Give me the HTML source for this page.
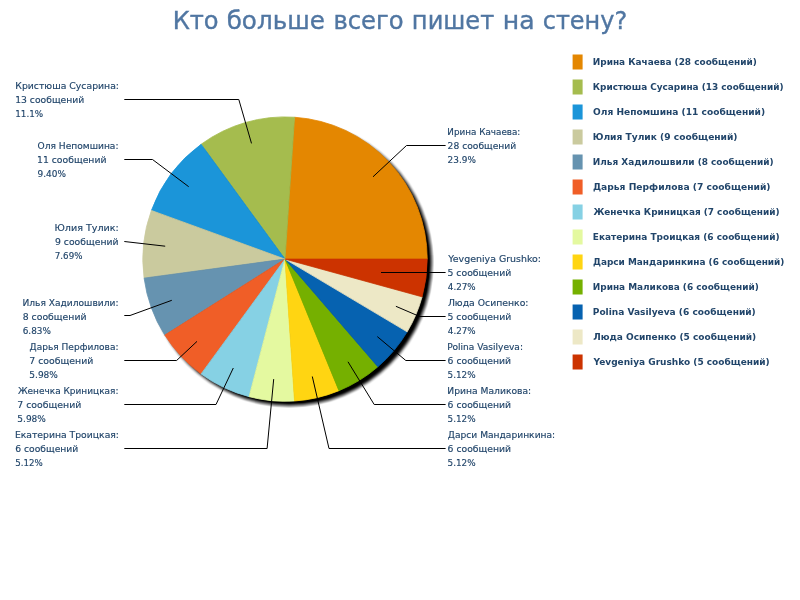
<!DOCTYPE html>
<html lang="ru">
<head>
<meta charset="utf-8">
<title>Кто больше всего пишет на стену?</title>
<style>
html,body{margin:0;padding:0;background:#fff;}
body{width:800px;height:600px;overflow:hidden;}
svg{display:block;}
.t{font-family:"DejaVu Sans Condensed", "Liberation Sans", sans-serif;font-size:25.2px;fill:#5076A2;stroke:#5076A2;stroke-width:0.35px;}
.l{font-family:"DejaVu Sans", "Liberation Sans", sans-serif;font-size:9.2px;fill:#21456A;stroke:#21456A;stroke-width:0.15px;}
.g{font-family:"DejaVu Sans Condensed", "Liberation Sans", sans-serif;font-size:9.5px;font-weight:bold;fill:#21456A;}
.k{fill:none;stroke:#000;stroke-width:1;}
</style>
</head>
<body>
<svg width="800" height="600" viewBox="0 0 800 600">
<defs><filter id="sh" x="-10%" y="-10%" width="125%" height="125%"><feConvolveMatrix order="5" kernelMatrix="1 1 1 1 1 1 1 1 1 1 1 1 1 1 1 1 1 1 1 1 1 1 1 1 1" divisor="25" edgeMode="none" preserveAlpha="false"/></filter></defs>
<rect width="800" height="600" fill="#fff"/>
<g>
<text class="t" x="172.66" y="29.3" textLength="45.99" lengthAdjust="spacingAndGlyphs">Кто</text>
<text class="t" x="226.70" y="29.3" textLength="98.16" lengthAdjust="spacingAndGlyphs">больше</text>
<text class="t" x="333.46" y="29.3" textLength="70.19" lengthAdjust="spacingAndGlyphs">всего</text>
<text class="t" x="411.87" y="29.3" textLength="82.37" lengthAdjust="spacingAndGlyphs">пишет</text>
<text class="t" x="502.78" y="29.3" textLength="31.82" lengthAdjust="spacingAndGlyphs">на</text>
<text class="t" x="542.73" y="29.3" textLength="84.49" lengthAdjust="spacingAndGlyphs">стену?</text>
</g>
<circle cx="289.2" cy="263.2" r="142.6" fill="#000" filter="url(#sh)"/>
<g>
<path d="M285.0 259.1L427.20 259.10A142.2 142.2 0 0 0 294.54 117.22Z" fill="#E48701" stroke="#E48701" stroke-width="0.8" stroke-linejoin="round"/>
<path d="M285.0 259.1L294.54 117.22A142.2 142.2 0 0 0 201.11 144.28Z" fill="#A5BC4E" stroke="#A5BC4E" stroke-width="0.8" stroke-linejoin="round"/>
<path d="M285.0 259.1L201.11 144.28A142.2 142.2 0 0 0 151.38 210.46Z" fill="#1B95D9" stroke="#1B95D9" stroke-width="0.8" stroke-linejoin="round"/>
<path d="M285.0 259.1L151.38 210.46A142.2 142.2 0 0 0 144.08 278.13Z" fill="#CACA9E" stroke="#CACA9E" stroke-width="0.8" stroke-linejoin="round"/>
<path d="M285.0 259.1L144.08 278.13A142.2 142.2 0 0 0 164.81 335.10Z" fill="#6693B0" stroke="#6693B0" stroke-width="0.8" stroke-linejoin="round"/>
<path d="M285.0 259.1L164.81 335.10A142.2 142.2 0 0 0 201.11 373.92Z" fill="#F05E27" stroke="#F05E27" stroke-width="0.8" stroke-linejoin="round"/>
<path d="M285.0 259.1L201.11 373.92A142.2 142.2 0 0 0 249.12 396.70Z" fill="#86D1E4" stroke="#86D1E4" stroke-width="0.8" stroke-linejoin="round"/>
<path d="M285.0 259.1L249.12 396.70A142.2 142.2 0 0 0 294.54 400.98Z" fill="#E4F9A0" stroke="#E4F9A0" stroke-width="0.8" stroke-linejoin="round"/>
<path d="M285.0 259.1L294.54 400.98A142.2 142.2 0 0 0 338.98 390.66Z" fill="#FFD512" stroke="#FFD512" stroke-width="0.8" stroke-linejoin="round"/>
<path d="M285.0 259.1L338.98 390.66A142.2 142.2 0 0 0 377.86 366.79Z" fill="#75B000" stroke="#75B000" stroke-width="0.8" stroke-linejoin="round"/>
<path d="M285.0 259.1L377.86 366.79A142.2 142.2 0 0 0 407.18 331.85Z" fill="#0662B0" stroke="#0662B0" stroke-width="0.8" stroke-linejoin="round"/>
<path d="M285.0 259.1L407.18 331.85A142.2 142.2 0 0 0 422.10 296.83Z" fill="#EDE8C6" stroke="#EDE8C6" stroke-width="0.8" stroke-linejoin="round"/>
<path d="M285.0 259.1L422.10 296.83A142.2 142.2 0 0 0 427.20 259.10Z" fill="#CC3300" stroke="#CC3300" stroke-width="0.8" stroke-linejoin="round"/>
</g>
<g>
<path class="k" d="M373.0 176.8L406.5 145.5L445.6 145.5"/>
<path class="k" d="M251.5 143.4L238.8 99.5L124.3 99.5"/>
<path class="k" d="M188.7 186.7L152.5 159.5L124.3 159.5"/>
<path class="k" d="M165.2 246.2L124.3 241.5"/>
<path class="k" d="M171.8 300.3L130.0 315.5L124.3 315.5"/>
<path class="k" d="M197.0 341.4L176.6 360.5L124.3 360.5"/>
<path class="k" d="M233.3 368.0L216.0 404.5L124.3 404.5"/>
<path class="k" d="M273.7 379.1L267.1 448.5L124.3 448.5"/>
<path class="k" d="M312.3 376.5L329.0 448.5L445.6 448.5"/>
<path class="k" d="M348.0 361.8L374.2 404.5L445.6 404.5"/>
<path class="k" d="M377.3 336.6L405.8 360.5L445.6 360.5"/>
<path class="k" d="M395.9 306.3L419.7 316.5L445.6 316.5"/>
<path class="k" d="M381.0 272.5L445.6 272.5"/>
</g>
<g>
<text class="l" x="447.34" y="135.2" textLength="73.02" lengthAdjust="spacingAndGlyphs">Ирина Качаева:</text>
<text class="l" x="447.60" y="149.1" textLength="68.67" lengthAdjust="spacingAndGlyphs">28 сообщений</text>
<text class="l" x="447.62" y="163.0" textLength="28.31" lengthAdjust="spacingAndGlyphs">23.9%</text>
<text class="l" x="15.29" y="89.1" textLength="103.72" lengthAdjust="spacingAndGlyphs">Кристюша Сусарина:</text>
<text class="l" x="15.20" y="103.0" textLength="69.08" lengthAdjust="spacingAndGlyphs">13 сообщений</text>
<text class="l" x="15.24" y="116.9" textLength="27.98" lengthAdjust="spacingAndGlyphs">11.1%</text>
<text class="l" x="37.51" y="149.2" textLength="80.98" lengthAdjust="spacingAndGlyphs">Оля Непомшина:</text>
<text class="l" x="36.99" y="163.1" textLength="69.49" lengthAdjust="spacingAndGlyphs">11 сообщений</text>
<text class="l" x="37.51" y="177.0" textLength="28.42" lengthAdjust="spacingAndGlyphs">9.40%</text>
<text class="l" x="54.56" y="231.2" textLength="64.27" lengthAdjust="spacingAndGlyphs">Юлия Тулик:</text>
<text class="l" x="55.00" y="245.1" textLength="63.49" lengthAdjust="spacingAndGlyphs">9 сообщений</text>
<text class="l" x="54.84" y="259.0" textLength="27.58" lengthAdjust="spacingAndGlyphs">7.69%</text>
<text class="l" x="22.41" y="305.8" textLength="96.08" lengthAdjust="spacingAndGlyphs">Илья Хадилошвили:</text>
<text class="l" x="22.69" y="319.7" textLength="63.80" lengthAdjust="spacingAndGlyphs">8 сообщений</text>
<text class="l" x="22.72" y="333.6" textLength="28.21" lengthAdjust="spacingAndGlyphs">6.83%</text>
<text class="l" x="29.61" y="350.2" textLength="88.87" lengthAdjust="spacingAndGlyphs">Дарья Перфилова:</text>
<text class="l" x="29.29" y="364.1" textLength="64.00" lengthAdjust="spacingAndGlyphs">7 сообщений</text>
<text class="l" x="29.31" y="378.0" textLength="28.62" lengthAdjust="spacingAndGlyphs">5.98%</text>
<text class="l" x="17.90" y="393.7" textLength="100.57" lengthAdjust="spacingAndGlyphs">Женечка Криницкая:</text>
<text class="l" x="17.29" y="407.6" textLength="64.00" lengthAdjust="spacingAndGlyphs">7 сообщений</text>
<text class="l" x="17.31" y="421.5" textLength="28.62" lengthAdjust="spacingAndGlyphs">5.98%</text>
<text class="l" x="14.90" y="437.9" textLength="104.11" lengthAdjust="spacingAndGlyphs">Екатерина Троицкая:</text>
<text class="l" x="15.20" y="451.8" textLength="63.08" lengthAdjust="spacingAndGlyphs">6 сообщений</text>
<text class="l" x="15.14" y="465.7" textLength="27.58" lengthAdjust="spacingAndGlyphs">5.12%</text>
<text class="l" x="447.80" y="437.9" textLength="107.39" lengthAdjust="spacingAndGlyphs">Дарси Мандаринкина:</text>
<text class="l" x="447.60" y="451.8" textLength="63.39" lengthAdjust="spacingAndGlyphs">6 сообщений</text>
<text class="l" x="447.53" y="465.7" textLength="28.10" lengthAdjust="spacingAndGlyphs">5.12%</text>
<text class="l" x="447.30" y="393.9" textLength="83.90" lengthAdjust="spacingAndGlyphs">Ирина Маликова:</text>
<text class="l" x="447.60" y="407.8" textLength="63.39" lengthAdjust="spacingAndGlyphs">6 сообщений</text>
<text class="l" x="447.53" y="421.7" textLength="28.10" lengthAdjust="spacingAndGlyphs">5.12%</text>
<text class="l" x="447.31" y="350.0" textLength="75.67" lengthAdjust="spacingAndGlyphs">Polina Vasilyeva:</text>
<text class="l" x="447.60" y="363.9" textLength="63.39" lengthAdjust="spacingAndGlyphs">6 сообщений</text>
<text class="l" x="447.53" y="377.8" textLength="28.10" lengthAdjust="spacingAndGlyphs">5.12%</text>
<text class="l" x="447.90" y="306.2" textLength="80.61" lengthAdjust="spacingAndGlyphs">Люда Осипенко:</text>
<text class="l" x="447.49" y="320.1" textLength="63.80" lengthAdjust="spacingAndGlyphs">5 сообщений</text>
<text class="l" x="447.82" y="334.0" textLength="27.80" lengthAdjust="spacingAndGlyphs">4.27%</text>
<text class="l" x="448.30" y="262.2" textLength="92.72" lengthAdjust="spacingAndGlyphs">Yevgeniya Grushko:</text>
<text class="l" x="447.49" y="276.1" textLength="63.80" lengthAdjust="spacingAndGlyphs">5 сообщений</text>
<text class="l" x="447.82" y="290.0" textLength="27.80" lengthAdjust="spacingAndGlyphs">4.27%</text>
</g>
<g>
<rect x="572.6" y="54.5" width="10" height="15" fill="#E48701"/>
<text class="g" x="592.77" y="64.5" textLength="163.97" lengthAdjust="spacingAndGlyphs">Ирина Качаева (28 сообщений)</text>
<rect x="572.6" y="79.5" width="10" height="15" fill="#A5BC4E"/>
<text class="g" x="592.77" y="89.5" textLength="190.76" lengthAdjust="spacingAndGlyphs">Кристюша Сусарина (13 сообщений)</text>
<rect x="572.6" y="104.5" width="10" height="15" fill="#1B95D9"/>
<text class="g" x="593.08" y="114.5" textLength="171.97" lengthAdjust="spacingAndGlyphs">Оля Непомшина (11 сообщений)</text>
<rect x="572.6" y="129.5" width="10" height="15" fill="#CACA9E"/>
<text class="g" x="592.75" y="139.5" textLength="144.80" lengthAdjust="spacingAndGlyphs">Юлия Тулик (9 сообщений)</text>
<rect x="572.6" y="154.5" width="10" height="15" fill="#6693B0"/>
<text class="g" x="592.77" y="164.5" textLength="180.77" lengthAdjust="spacingAndGlyphs">Илья Хадилошвили (8 сообщений)</text>
<rect x="572.6" y="179.5" width="10" height="15" fill="#F05E27"/>
<text class="g" x="592.96" y="189.5" textLength="177.59" lengthAdjust="spacingAndGlyphs">Дарья Перфилова (7 сообщений)</text>
<rect x="572.6" y="204.5" width="10" height="15" fill="#86D1E4"/>
<text class="g" x="593.40" y="214.5" textLength="186.14" lengthAdjust="spacingAndGlyphs">Женечка Криницкая (7 сообщений)</text>
<rect x="572.6" y="229.5" width="10" height="15" fill="#E4F9A0"/>
<text class="g" x="592.76" y="239.5" textLength="186.78" lengthAdjust="spacingAndGlyphs">Екатерина Троицкая (6 сообщений)</text>
<rect x="572.6" y="254.5" width="10" height="15" fill="#FFD512"/>
<text class="g" x="592.98" y="264.5" textLength="191.46" lengthAdjust="spacingAndGlyphs">Дарси Мандаринкина (6 сообщений)</text>
<rect x="572.6" y="279.5" width="10" height="15" fill="#75B000"/>
<text class="g" x="592.77" y="289.5" textLength="165.97" lengthAdjust="spacingAndGlyphs">Ирина Маликова (6 сообщений)</text>
<rect x="572.6" y="304.5" width="10" height="15" fill="#0662B0"/>
<text class="g" x="592.76" y="314.5" textLength="162.99" lengthAdjust="spacingAndGlyphs">Polina Vasilyeva (6 сообщений)</text>
<rect x="572.6" y="329.5" width="10" height="15" fill="#EDE8C6"/>
<text class="g" x="593.18" y="339.5" textLength="163.06" lengthAdjust="spacingAndGlyphs">Люда Осипенко (5 сообщений)</text>
<rect x="572.6" y="354.5" width="10" height="15" fill="#CC3300"/>
<text class="g" x="593.61" y="364.5" textLength="176.14" lengthAdjust="spacingAndGlyphs">Yevgeniya Grushko (5 сообщений)</text>
</g>
</svg>
</body>
</html>
